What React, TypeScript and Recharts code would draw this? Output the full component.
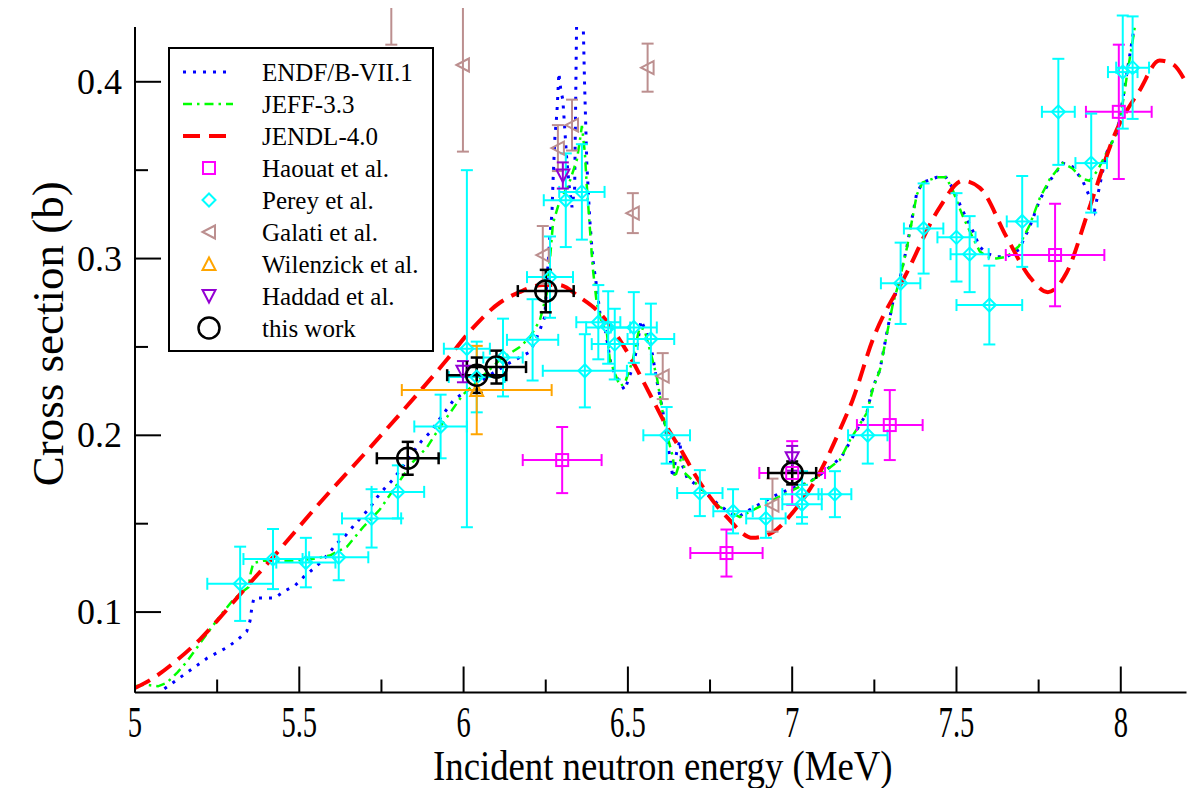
import React from "react";
import { ComposedChart, Line, Scatter, XAxis, YAxis, ErrorBar, Legend } from "recharts";

const FONT = "'Liberation Serif', 'Times New Roman', serif";

// Evaluated cross sections: [energy (MeV), cross section (b)]
const endfB71: [number, number][] = [
  [5.04, 0.05], [5.07, 0.054], [5.1, 0.058], [5.13, 0.062], [5.16, 0.066], [5.19, 0.07], [5.22, 0.074],
  [5.25, 0.077], [5.28, 0.08], [5.31, 0.084], [5.34, 0.089], [5.35, 0.095], [5.356, 0.103], [5.362, 0.108],
  [5.39, 0.108], [5.425, 0.108], [5.456, 0.112], [5.487, 0.115], [5.514, 0.12], [5.54, 0.124], [5.57, 0.129],
  [5.593, 0.134], [5.615, 0.139], [5.642, 0.1436], [5.666, 0.149], [5.69, 0.154], [5.715, 0.159], [5.737, 0.165],
  [5.76, 0.17], [5.785, 0.175], [5.806, 0.18], [5.84, 0.189], [5.873, 0.197], [5.9, 0.202], [5.92, 0.2075],
  [5.97, 0.22], [6.0, 0.224], [6.07, 0.233], [6.14, 0.241], [6.2, 0.247], [6.215, 0.252], [6.232, 0.2595],
  [6.247, 0.267], [6.263, 0.314], [6.269, 0.3257], [6.272, 0.343], [6.278, 0.369], [6.284, 0.3823], [6.29, 0.405],
  [6.296, 0.395], [6.302, 0.39], [6.314, 0.356], [6.322, 0.34], [6.33, 0.329], [6.338, 0.34], [6.345, 0.45],
  [6.362, 0.45], [6.368, 0.4], [6.375, 0.354], [6.384, 0.322], [6.393, 0.3], [6.405, 0.284], [6.415, 0.269],
  [6.43, 0.261], [6.45, 0.2386], [6.466, 0.233], [6.49, 0.2256], [6.515, 0.2386], [6.528, 0.25], [6.54, 0.265],
  [6.567, 0.254], [6.588, 0.231], [6.606, 0.214], [6.62, 0.197], [6.637, 0.176], [6.648, 0.19], [6.658, 0.197],
  [6.664, 0.184], [6.68, 0.176], [6.728, 0.169], [6.78, 0.16], [6.835, 0.1537], [6.88, 0.159], [6.962, 0.1673],
  [7.014, 0.171], [7.053, 0.1736], [7.093, 0.1787], [7.15, 0.1877], [7.184, 0.199], [7.227, 0.2126], [7.245, 0.227],
  [7.267, 0.237], [7.288, 0.258], [7.306, 0.275], [7.327, 0.288], [7.349, 0.3065], [7.364, 0.322], [7.379, 0.337],
  [7.397, 0.343], [7.44, 0.346], [7.468, 0.346], [7.488, 0.34], [7.519, 0.327], [7.549, 0.316], [7.571, 0.3065],
  [7.592, 0.303], [7.622, 0.301], [7.653, 0.301], [7.69, 0.305], [7.723, 0.318], [7.753, 0.333], [7.784, 0.344],
  [7.823, 0.354], [7.853, 0.352], [7.884, 0.344], [7.905, 0.335], [7.92, 0.327], [7.94, 0.345], [7.957, 0.36],
  [7.988, 0.371], [8.006, 0.39], [8.02, 0.4066], [8.036, 0.425], [8.05, 0.445],
];

const jeff33: [number, number][] = [
  [5.0, 0.058], [5.03, 0.059], [5.07, 0.058], [5.097, 0.06], [5.13, 0.066], [5.158, 0.072], [5.189, 0.08],
  [5.228, 0.09], [5.26, 0.098], [5.298, 0.1068], [5.33, 0.112], [5.345, 0.114], [5.352, 0.122], [5.36, 0.1277],
  [5.39, 0.129], [5.47, 0.129], [5.54, 0.13], [5.593, 0.132], [5.645, 0.137], [5.694, 0.148], [5.745, 0.158],
  [5.797, 0.172], [5.846, 0.185], [5.888, 0.193], [5.928, 0.2047], [5.96, 0.213], [5.998, 0.223], [6.05, 0.232],
  [6.11, 0.2426], [6.171, 0.25], [6.2, 0.255], [6.232, 0.265], [6.253, 0.28], [6.263, 0.3], [6.272, 0.32],
  [6.293, 0.333], [6.32, 0.342], [6.345, 0.356], [6.354, 0.367], [6.36, 0.375], [6.369, 0.36], [6.375, 0.341],
  [6.384, 0.318], [6.393, 0.295], [6.405, 0.275], [6.42, 0.264], [6.436, 0.258], [6.445, 0.2426], [6.475, 0.228],
  [6.49, 0.229], [6.515, 0.2426], [6.527, 0.254], [6.536, 0.261], [6.55, 0.26], [6.573, 0.244], [6.588, 0.233],
  [6.603, 0.216], [6.618, 0.201], [6.637, 0.1877], [6.643, 0.176], [6.655, 0.183], [6.667, 0.19], [6.673, 0.1787],
  [6.719, 0.1707], [6.78, 0.1594], [6.841, 0.1537], [6.88, 0.1577], [6.94, 0.1634], [6.984, 0.1673], [7.063, 0.1747],
  [7.145, 0.186], [7.175, 0.197], [7.227, 0.2126], [7.245, 0.226], [7.267, 0.237], [7.288, 0.257], [7.306, 0.274],
  [7.327, 0.288], [7.349, 0.306], [7.364, 0.321], [7.379, 0.336], [7.397, 0.343], [7.44, 0.346], [7.468, 0.346],
  [7.488, 0.339], [7.519, 0.324], [7.549, 0.312], [7.571, 0.304], [7.592, 0.301], [7.622, 0.3], [7.653, 0.301],
  [7.69, 0.307], [7.723, 0.319], [7.753, 0.334], [7.784, 0.345], [7.823, 0.354], [7.853, 0.351], [7.884, 0.345],
  [7.905, 0.344], [7.93, 0.35], [7.957, 0.36], [7.988, 0.371], [8.006, 0.388], [8.02, 0.405], [8.036, 0.423],
  [8.05, 0.44],
];

const jendl40: [number, number][] = [
  [5.0, 0.057], [5.05, 0.062], [5.116, 0.071], [5.2, 0.085], [5.259, 0.097], [5.329, 0.112], [5.42, 0.131],
  [5.554, 0.16], [5.715, 0.193], [5.858, 0.223], [5.95, 0.243], [6.02, 0.259], [6.11, 0.275], [6.17, 0.281],
  [6.24, 0.285], [6.29, 0.285], [6.354, 0.278], [6.415, 0.269], [6.5, 0.2465], [6.576, 0.22], [6.618, 0.205],
  [6.667, 0.19], [6.71, 0.176], [6.8, 0.154], [6.88, 0.142], [6.94, 0.145], [7.0, 0.156], [7.084, 0.179],
  [7.145, 0.203], [7.184, 0.22], [7.245, 0.254], [7.349, 0.292], [7.449, 0.329], [7.519, 0.344], [7.571, 0.34],
  [7.653, 0.312], [7.723, 0.2895], [7.778, 0.281], [7.835, 0.292], [7.905, 0.329], [7.988, 0.373], [8.057, 0.395],
  [8.118, 0.412], [8.158, 0.41], [8.2, 0.399],
];

// Measurements: [energy, cross section, energy uncertainty, cross-section uncertainty]
const haouat: [number, number, number, number][] = [
  [6.3, 0.186, 0.12, 0.0187], [6.8, 0.1334, 0.11, 0.0133], [7.0, 0.1787, 0.1, 0.018],
  [7.297, 0.2058, 0.1, 0.0198], [7.8, 0.302, 0.15, 0.029], [7.994, 0.383, 0.1, 0.038],
];

const perey: [number, number, number, number][] = [
  [5.32, 0.116, 0.1, 0.021], [5.42, 0.13, 0.09, 0.017], [5.52, 0.128, 0.09, 0.014], [5.62, 0.131, 0.09, 0.013],
  [5.72, 0.153, 0.09, 0.0165], [5.8, 0.168, 0.08, 0.015], [5.93, 0.205, 0.08, 0.018], [6.01, 0.249, 0.07, 0.101],
  [6.04, 0.233, 0.085, 0.02], [6.12, 0.244, 0.06, 0.022], [6.21, 0.254, 0.078, 0.023], [6.263, 0.2895, 0.07, 0.023],
  [6.311, 0.333, 0.067, 0.0265], [6.36, 0.3377, 0.069, 0.027], [6.369, 0.2365, 0.128, 0.0207],
  [6.41, 0.264, 0.067, 0.021], [6.44, 0.261, 0.067, 0.0205], [6.46, 0.2516, 0.07, 0.02], [6.518, 0.261, 0.07, 0.02],
  [6.57, 0.2545, 0.071, 0.02], [6.618, 0.2, 0.071, 0.016], [6.719, 0.1673, 0.069, 0.013], [6.82, 0.157, 0.06, 0.0125],
  [6.92, 0.153, 0.06, 0.011], [7.03, 0.1667, 0.06, 0.013], [7.03, 0.161, 0.06, 0.011], [7.13, 0.1667, 0.05, 0.013],
  [7.23, 0.2, 0.06, 0.016], [7.33, 0.286, 0.06, 0.023], [7.4, 0.317, 0.06, 0.0255], [7.5, 0.312, 0.058, 0.025],
  [7.54, 0.3025, 0.058, 0.0215], [7.6, 0.2737, 0.1, 0.0223], [7.7, 0.321, 0.047, 0.0257], [7.81, 0.383, 0.05, 0.03],
  [7.91, 0.354, 0.048, 0.028], [8.006, 0.4055, 0.045, 0.032], [8.036, 0.408, 0.05, 0.029],
];

const galati: [number, number, number, number][] = [
  [5.78, 0.47, 0, 0.049], [5.998, 0.4095, 0, 0.049], [6.241, 0.302, 0, 0.0164], [6.287, 0.3625, 0, 0.013],
  [6.33, 0.3755, 0, 0.0144], [6.515, 0.3257, 0, 0.0113], [6.56, 0.408, 0, 0.0136], [6.606, 0.2335, 0, 0.013],
  [6.94, 0.1605, 0, 0.015],
];

const wilenzick: [number, number, number, number][] = [[6.04, 0.2256, 0.228, 0.025]];

const haddad: [number, number, number, number][] = [
  [5.998, 0.236, 0, 0.006], [6.302, 0.347, 0, 0.0074], [7.0, 0.187, 0, 0.007],
];

const thisWork: [number, number, number, number][] = [
  [5.83, 0.187, 0.094, 0.0093], [6.04, 0.234, 0.09, 0.01], [6.1, 0.2386, 0.09, 0.0093],
  [6.25, 0.2816, 0.085, 0.012], [7.0, 0.1787, 0.073, 0.0065],
];

const xTicks = [5, 5.25, 5.5, 5.75, 6, 6.25, 6.5, 6.75, 7, 7.25, 7.5, 7.75, 8];
const yTicks = [0.1, 0.15, 0.2, 0.25, 0.3, 0.35, 0.4];

const curve = (pts: [number, number][]) => pts.map(([e, s]) => ({ e, s }));
const points = (pts: [number, number, number, number][]) => pts.map(([e, s, de, ds]) => ({ e, s, de, ds }));

const COLORS = {
  endf: "#0000ff",
  jeff: "#00ff00",
  jendl: "#ff0000",
  haouat: "#ff00ff",
  perey: "#00ffff",
  galati: "#bc8f8f",
  wilenzick: "#ffa500",
  haddad: "#9400d3",
  thisWork: "#000000",
};

const LINE_STYLES = {
  endf: { stroke: COLORS.endf, strokeWidth: 3, strokeDasharray: "3 7" },
  jeff: { stroke: COLORS.jeff, strokeWidth: 2.5, strokeDasharray: "9 5 2.5 5" },
  jendl: { stroke: COLORS.jendl, strokeWidth: 4, strokeDasharray: "17 9" },
};

// Marker glyphs
const diamond = (cx: number, cy: number) => (
  <path d={`M${cx},${cy - 6.5}L${cx + 6.5},${cy}L${cx},${cy + 6.5}L${cx - 6.5},${cy}Z`} fill="none" stroke={COLORS.perey} strokeWidth={2} />
);
const square = (cx: number, cy: number) => (
  <rect x={cx - 6} y={cy - 6} width={12} height={12} fill="none" stroke={COLORS.haouat} strokeWidth={2} />
);
const triLeft = (cx: number, cy: number) => (
  <path d={`M${cx - 6.5},${cy}L${cx + 6},${cy - 6.5}L${cx + 6},${cy + 6.5}Z`} fill="none" stroke={COLORS.galati} strokeWidth={2} />
);
const triUp = (cx: number, cy: number) => (
  <path d={`M${cx},${cy - 6.5}L${cx + 6.5},${cy + 6}L${cx - 6.5},${cy + 6}Z`} fill="none" stroke={COLORS.wilenzick} strokeWidth={2} />
);
const triDown = (cx: number, cy: number) => (
  <path d={`M${cx},${cy + 6.5}L${cx + 6.5},${cy - 6}L${cx - 6.5},${cy - 6}Z`} fill="none" stroke={COLORS.haddad} strokeWidth={2} />
);
const circle = (cx: number, cy: number) => (
  <circle cx={cx} cy={cy} r={10.5} fill="none" stroke={COLORS.thisWork} strokeWidth={2.5} />
);

const shapeOf = (glyph: (cx: number, cy: number) => React.ReactElement) => (p: any) => glyph(p.cx, p.cy);

const legendRows: { name: string; line?: keyof typeof LINE_STYLES; glyph?: (cx: number, cy: number) => React.ReactElement }[] = [
  { name: "ENDF/B-VII.1", line: "endf" },
  { name: "JEFF-3.3", line: "jeff" },
  { name: "JENDL-4.0", line: "jendl" },
  { name: "Haouat et al.", glyph: square },
  { name: "Perey et al.", glyph: diamond },
  { name: "Galati et al.", glyph: triLeft },
  { name: "Wilenzick et al.", glyph: triUp },
  { name: "Haddad et al.", glyph: triDown },
  { name: "this work", glyph: circle },
];

const LegendBox = () => (
  <svg width={266} height={305} style={{ display: "block" }}>
    <rect x={1} y={1} width={264} height={303} fill="#fff" stroke="#000" strokeWidth={2} />
    {legendRows.map((row, i) => {
      const cy = 25 + 32 * i;
      return (
        <g key={row.name}>
          {row.line ? <line x1={15} x2={65} y1={cy} y2={cy} {...LINE_STYLES[row.line]} /> : row.glyph!(41, cy)}
          <text x={94} y={cy} dominantBaseline="central" fontSize={25} fontFamily={FONT} fill="#000">
            {row.name}
          </text>
        </g>
      );
    })}
  </svg>
);

const isMultiple = (v: number, step: number) => Math.abs(v / step - Math.round(v / step)) < 1e-6;

const XTick = ({ x, y, payload }: any) => {
  const v = payload.value as number;
  const major = isMultiple(v, 0.5);
  return (
    <g>
      <line x1={x} x2={x} y1={y} y2={y - (major ? 26 : 13)} stroke="#000" strokeWidth={2} />
      {major && (
        <text
          transform={`translate(${x},${y + 30}) scale(0.65,1)`}
          textAnchor="middle"
          dominantBaseline="central"
          fontSize={44}
          fontFamily={FONT}
          fill="#000"
        >
          {String(v)}
        </text>
      )}
    </g>
  );
};

const YTick = ({ x, y, payload }: any) => {
  const v = payload.value as number;
  const major = isMultiple(v, 0.1);
  return (
    <g>
      <line x1={x} x2={x + (major ? 26 : 13)} y1={y} y2={y} stroke="#000" strokeWidth={2} />
      {major && (
        <text x={x - 13} y={y} textAnchor="end" dominantBaseline="central" fontSize={36} fontFamily={FONT} fill="#000">
          {v.toFixed(1)}
        </text>
      )}
    </g>
  );
};

const XTitle = ({ viewBox }: any) => {
  const { x, y, width } = viewBox;
  return (
    <text transform={`translate(${x + width / 2 + 2},${y + 87}) scale(0.875,1)`} textAnchor="middle" fontSize={42} fontFamily={FONT} fill="#000">
      Incident neutron energy (MeV)
    </text>
  );
};

const YTitle = ({ viewBox }: any) => {
  const { x, y, height } = viewBox;
  return (
    <text
      transform={`translate(${x + 40},${y + height / 2 - 26}) rotate(-90)`}
      textAnchor="middle"
      dominantBaseline="central"
      fontSize={45}
      fontFamily={FONT}
      fill="#000"
    >
      Cross section (b)
    </text>
  );
};

export default function App() {
  const bar = (color: string, w = 2) => ({ stroke: color, strokeWidth: w, width: 6 });
  return (
    <div style={{ width: 1190, height: 780, background: "#fff" }}>
      <ComposedChart width={1190} height={780} margin={{ top: 19, right: 11.5, bottom: 0, left: 0 }}>
        <XAxis
          dataKey="e"
          type="number"
          domain={[5, 8.2]}
          ticks={xTicks}
          interval={0}
          allowDataOverflow
          height={95.5}
          tickSize={0}
          tickMargin={0}
          tickLine={false}
          tick={<XTick />}
          axisLine={{ stroke: "#000", strokeWidth: 2 }}
          label={<XTitle />}
        />
        <XAxis xAxisId="top" orientation="top" type="number" domain={[5, 8.2]} height={0} tick={false} tickLine={false} axisLine={{ stroke: "#000", strokeWidth: 2 }} />
        <YAxis
          type="number"
          domain={[0.0545, 0.431]}
          ticks={yTicks}
          interval={0}
          allowDataOverflow
          width={127}
          tickSize={0}
          tickMargin={0}
          tickLine={false}
          tick={<YTick />}
          axisLine={{ stroke: "#000", strokeWidth: 2 }}
          label={<YTitle />}
        />
        <YAxis yAxisId="right" orientation="right" type="number" domain={[0, 1]} width={0} tick={false} tickLine={false} axisLine={{ stroke: "#000", strokeWidth: 2 }} />

        <Line data={curve(endfB71)} dataKey="s" type="linear" dot={false} activeDot={false} isAnimationActive={false} {...LINE_STYLES.endf} />
        <Line data={curve(jeff33)} dataKey="s" type="linear" dot={false} activeDot={false} isAnimationActive={false} {...LINE_STYLES.jeff} />
        <Line data={curve(jendl40)} dataKey="s" type="monotone" dot={false} activeDot={false} isAnimationActive={false} {...LINE_STYLES.jendl} />

        <Scatter data={points(haouat)} dataKey="s" shape={shapeOf(square)} isAnimationActive={false}>
          <ErrorBar dataKey="de" direction="x" {...bar(COLORS.haouat)} />
          <ErrorBar dataKey="ds" direction="y" {...bar(COLORS.haouat)} />
        </Scatter>
        <Scatter data={points(perey)} dataKey="s" shape={shapeOf(diamond)} isAnimationActive={false}>
          <ErrorBar dataKey="de" direction="x" {...bar(COLORS.perey)} />
          <ErrorBar dataKey="ds" direction="y" {...bar(COLORS.perey)} />
        </Scatter>
        <Scatter data={points(galati)} dataKey="s" shape={shapeOf(triLeft)} isAnimationActive={false}>
          <ErrorBar dataKey="ds" direction="y" {...bar(COLORS.galati)} />
        </Scatter>
        <Scatter data={points(wilenzick)} dataKey="s" shape={shapeOf(triUp)} isAnimationActive={false}>
          <ErrorBar dataKey="de" direction="x" {...bar(COLORS.wilenzick)} />
          <ErrorBar dataKey="ds" direction="y" {...bar(COLORS.wilenzick)} />
        </Scatter>
        <Scatter data={points(haddad)} dataKey="s" shape={shapeOf(triDown)} isAnimationActive={false}>
          <ErrorBar dataKey="ds" direction="y" {...bar(COLORS.haddad)} />
        </Scatter>
        <Scatter data={points(thisWork)} dataKey="s" shape={shapeOf(circle)} isAnimationActive={false}>
          <ErrorBar dataKey="de" direction="x" {...bar(COLORS.thisWork, 2.5)} />
          <ErrorBar dataKey="ds" direction="y" {...bar(COLORS.thisWork, 2.5)} />
        </Scatter>

        <Legend
          layout="vertical"
          align="center"
          verticalAlign="middle"
          content={() => <LegendBox />}
          wrapperStyle={{ position: "absolute", left: 160, top: 39, width: 266, height: 305 }}
        />
      </ComposedChart>
    </div>
  );
}
